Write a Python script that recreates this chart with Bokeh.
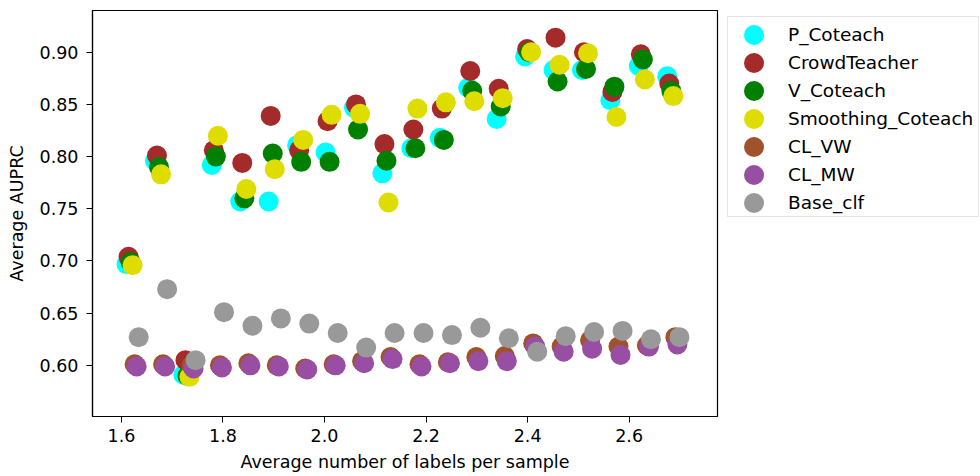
from bokeh.plotting import figure
from bokeh.models import Legend, LegendItem, FixedTicker, PrintfTickFormatter
from bokeh.embed import file_html
from bokeh.resources import INLINE

# Average number of labels per sample (base x of each group)
x_base = [1.610, 1.666, 1.722, 1.778, 1.834, 1.890, 1.946, 2.002, 2.058, 2.114,
          2.171, 2.227, 2.283, 2.339, 2.395, 2.451, 2.507, 2.563, 2.619, 2.675]

# small horizontal jitter per series (as in the reference)
x_jitter = [0.000, 0.004, 0.008, 0.012, 0.016, 0.020, 0.024]

series_names = ["P_Coteach", "CrowdTeacher", "V_Coteach", "Smoothing_Coteach",
                "CL_VW", "CL_MW", "Base_clf"]

p_coteach = [0.697, 0.796, 0.591, 0.792, 0.757, 0.757, 0.811, 0.804, 0.847, 0.784,
             0.808, 0.818, 0.866, 0.836, 0.896, 0.883, 0.883, 0.854, 0.887, 0.877]
crowdteacher = [0.704, 0.801, 0.605, 0.806, 0.794, 0.839, 0.806, 0.834, 0.850, 0.812,
                0.826, 0.846, 0.882, 0.865, 0.903, 0.914, 0.900, 0.862, 0.898, 0.870]
v_coteach = [0.699, 0.790, 0.590, 0.800, 0.760, 0.803, 0.795, 0.795, 0.826, 0.796,
             0.808, 0.816, 0.863, 0.848, 0.900, 0.872, 0.884, 0.867, 0.893, 0.863]
smoothing_coteach = [0.696, 0.783, 0.589, 0.820, 0.769, 0.788, 0.816, 0.840, 0.841, 0.756,
                     0.846, 0.852, 0.853, 0.856, 0.900, 0.888, 0.899, 0.838, 0.874, 0.858]
cl_vw = [0.601, 0.601, 0.600, 0.600, 0.602, 0.600, 0.597, 0.601, 0.604, 0.608,
         0.601, 0.603, 0.608, 0.609, 0.621, 0.618, 0.624, 0.618, 0.619, 0.627]
cl_mw = [0.599, 0.599, 0.597, 0.598, 0.600, 0.599, 0.596, 0.600, 0.602, 0.606,
         0.599, 0.602, 0.604, 0.604, 0.618, 0.613, 0.616, 0.610, 0.618, 0.620]
base_clf = [0.627, 0.673, 0.605, 0.651, 0.638, 0.645, 0.640, 0.631, 0.617, 0.631,
            0.631, 0.629, 0.636, 0.626, 0.613, 0.628, 0.632, 0.633, 0.625, 0.627]

series_values = [p_coteach, crowdteacher, v_coteach, smoothing_coteach, cl_vw, cl_mw, base_clf]
series_colors = ["#00FFFF", "#A52A2A", "#008000", "#DFDC00", "#A0522D", "#984EA3", "#999999"]

x_ticks = [1.6, 1.8, 2.0, 2.2, 2.4, 2.6]
y_ticks = [0.60, 0.65, 0.70, 0.75, 0.80, 0.85, 0.90]

FONT = "DejaVu Sans"
NAN = float("nan")

p = figure(frame_width=625, frame_height=406, x_range=(1.543, 2.774), y_range=(0.551, 0.940),
           output_backend="svg", toolbar_location=None,
           min_border=0, min_border_left=92, min_border_top=10, min_border_bottom=60,
           min_border_right=0)
p.grid.visible = False
p.outline_line_color = "black"
p.outline_line_width = 1.2
p.background_fill_color = "white"

items = []
for name, vals, col, dx in zip(series_names, series_values, series_colors, x_jitter):
    xs = [xb + dx for xb in x_base]
    r = p.scatter(xs, vals, size=20, fill_color=col, line_color=None, marker="circle")
    # legend swatch: a 20px screen-unit disc (NaN position, so nothing is drawn in the plot)
    swatch = p.ellipse(x=[NAN], y=[NAN], width=20, height=20,
                       width_units="screen", height_units="screen",
                       fill_color=col, line_color=None)
    items.append(LegendItem(label=name, renderers=[swatch, r]))

p.xaxis.ticker = FixedTicker(ticks=x_ticks)
p.yaxis.ticker = FixedTicker(ticks=y_ticks)
p.xaxis.formatter = PrintfTickFormatter(format="%.1f")
p.yaxis.formatter = PrintfTickFormatter(format="%.2f")
p.xaxis.axis_label = "Average number of labels per sample"
p.yaxis.axis_label = "Average AUPRC"

for ax in (p.xaxis[0], p.yaxis[0]):
    ax.major_label_text_font = FONT
    ax.major_label_text_font_size = "17.5px"
    ax.major_label_text_color = "black"
    ax.axis_label_text_font = FONT
    ax.axis_label_text_font_size = "17.5px"
    ax.axis_label_text_font_style = "normal"
    ax.axis_label_text_color = "black"
    ax.major_tick_out = 6
    ax.major_tick_in = 0
    ax.minor_tick_out = 0
    ax.minor_tick_in = 0
    ax.major_tick_line_color = "black"
    ax.axis_line_color = "black"
    ax.axis_line_width = 1.2

p.yaxis.major_label_standoff = 8
p.yaxis.axis_label_standoff = 10
p.xaxis.major_label_standoff = 6
p.xaxis.axis_label_standoff = 7

legend = Legend(items=items, location=(10, 199), margin=6,
                glyph_width=25, glyph_height=25, spacing=3,
                padding=dict(left=13, right=5, top=5, bottom=1),
                label_standoff=22, label_text_font=FONT, label_text_font_size="18.5px",
                label_text_color="black",
                border_line_color="#CCCCCC", border_line_width=1.5,
                background_fill_color="white", background_fill_alpha=0.9)
p.add_layout(legend, "right")

open("out.html", "w").write(file_html(p, INLINE))
